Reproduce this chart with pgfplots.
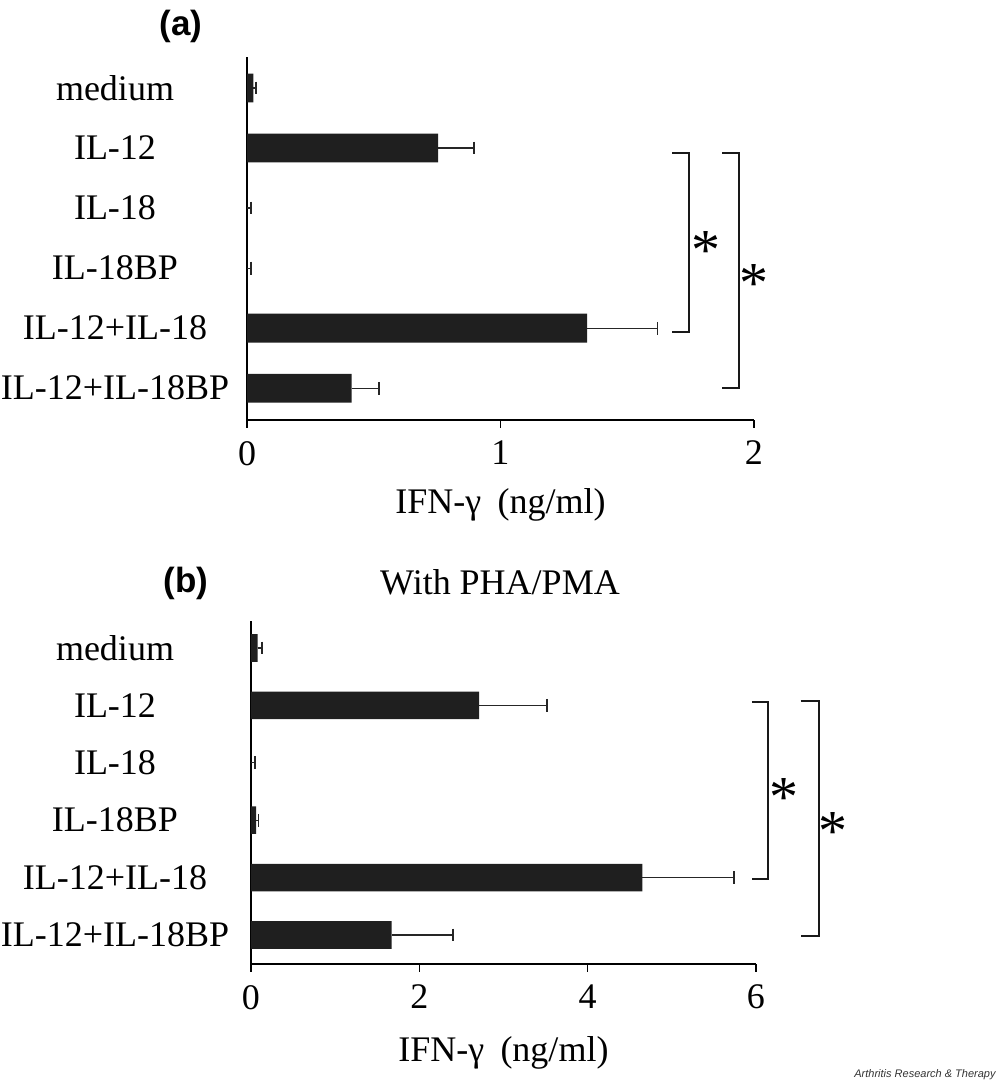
\documentclass[border=0pt]{standalone}
\usepackage{fontspec}
\setmainfont{Liberation Serif}
\newfontfamily\sansfont{Liberation Sans}
\usepackage{pgfplots}
\pgfplotsset{compat=1.18}
\tikzset{brk/.style={line width=0.9pt, black!90},
  ast/.style={font=\fontsize{29}{29}\selectfont, inner sep=0, yshift=-4pt}}
\pgfplotsset{
 panel/.style={
   scale only axis, clip=false,
   axis x line*=bottom, axis y line*=left,
   axis line style={line width=0.8pt, black},
   xbar, bar width=0.48,
   tick align=outside, major tick length=4pt,
   xtick style={line width=0.8pt, black},
   ytick style={draw=none},
   ytick={0,...,5},
   yticklabels={IL-12+IL-18BP,IL-12+IL-18,IL-18BP,IL-18,IL-12,medium},
   tick label style={font=\fontsize{18}{21}\selectfont},
   xticklabel style={yshift=-3pt},
   /pgf/number format/assume math mode=true,
   label style={font=\fontsize{18}{21}\selectfont},
   xlabel={IFN-γ\hspace{0.45em}(ng/ml)},
 },
 barstyle/.style={fill=black!88, draw=none,
   error bars/.cd, x dir=plus, x explicit,
   error bar style={line width=0.6pt, draw=black!85},
   error mark=|,
   error mark options={line width=0.9pt, draw=black!85, mark size=3.2pt}},
}
\begin{document}
\begin{tikzpicture}
\path[use as bounding box] (0pt,0pt) rectangle (500pt,541pt);
% panel (a)
\begin{axis}[panel, at={(123.5pt,331pt)}, anchor=south west,
  width=253.5pt, height=181.5pt,
  xmin=0, xmax=2, ymin=-0.53, ymax=5.517, xtick={0,1,2},
  yticklabel style={anchor=center, xshift=-62pt},
  xlabel style={at={(axis description cs:0.5,-0.234)}, anchor=center}]
\addplot[barstyle] coordinates {
 (0.025,5) +- (0.011,0)
 (0.754,4) +- (0.143,0)
 (0,3) +- (0.015,0)
 (0,2) +- (0.015,0)
 (1.342,1) +- (0.277,0)
 (0.413,0) +- (0.108,0)
};
\draw[brk] (axis cs:1.677,3.92) -- (axis cs:1.744,3.92) -- (axis cs:1.744,0.93) -- (axis cs:1.677,0.93);
\draw[brk] (axis cs:1.874,3.92) -- (axis cs:1.94,3.92) -- (axis cs:1.94,0) -- (axis cs:1.874,0);
\node[ast] at (axis cs:1.81,2.43) {*};
\node[ast] at (axis cs:2.0,1.87) {*};
\end{axis}
% panel (b)
\begin{axis}[panel, at={(125.5pt,59pt)}, anchor=south west,
  width=252.5pt, height=171.5pt,
  xmin=0, xmax=6, ymin=-0.505, ymax=5.47, xtick={0,2,4,6},
  yticklabel style={anchor=center, xshift=-64pt},
  xlabel style={at={(axis description cs:0.5,-0.258)}, anchor=center}]
\addplot[barstyle] coordinates {
 (0.08,5) +- (0.055,0)
 (2.709,4) +- (0.811,0)
 (0,3) +- (0.05,0)
 (0.06,2) +- (0.03,0)
 (4.65,1) +- (1.09,0)
 (1.671,0) +- (0.733,0)
};
\draw[brk] (axis cs:5.95,4.06) -- (axis cs:6.14,4.06) -- (axis cs:6.14,0.98) -- (axis cs:5.95,0.98);
\draw[brk] (axis cs:6.53,4.07) -- (axis cs:6.75,4.07) -- (axis cs:6.75,-0.02) -- (axis cs:6.53,-0.02);
\node[ast] at (axis cs:6.33,2.53) {*};
\node[ast] at (axis cs:6.92,1.95) {*};
\end{axis}
\node[font=\sansfont\bfseries\fontsize{17.5}{20}\selectfont, inner sep=0] at (90.5pt,528pt) {(a)};
\node[font=\sansfont\bfseries\fontsize{17.5}{20}\selectfont, inner sep=0] at (93pt,249.5pt) {(b)};
\node[font=\fontsize{18}{21}\selectfont, inner sep=0] at (250pt,250pt) {With PHA/PMA};
\node[anchor=east, font=\sansfont\itshape\fontsize{5.5}{6}\selectfont, inner sep=0, text=black!80] at (498pt,3.5pt) {Arthritis Research \& Therapy};
\end{tikzpicture}
\end{document}
